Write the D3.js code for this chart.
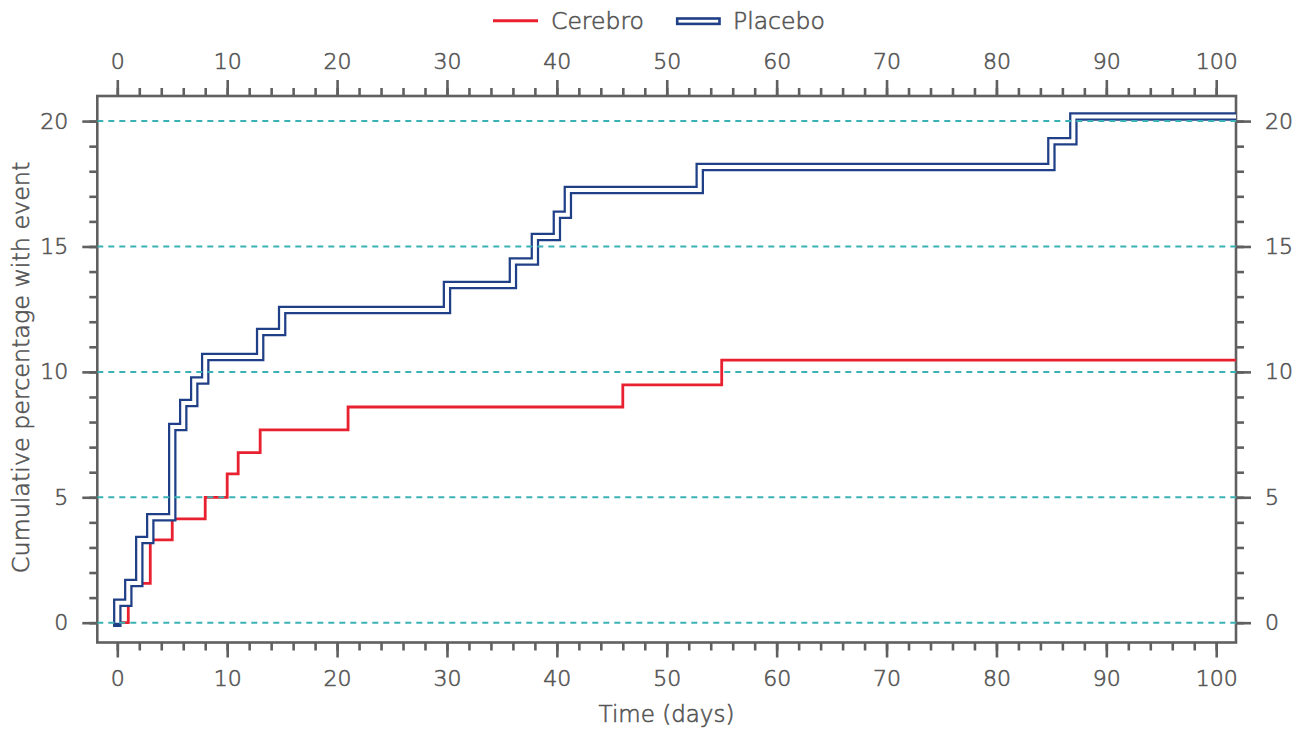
<!DOCTYPE html>
<html>
<head>
<meta charset="utf-8">
<script src="https://cdn.jsdelivr.net/npm/d3@7"></script>
<style>
    body { margin: 0; background: #fff; }
    #chart-area { width: 1299px; height: 734px; }
    text {
        font-family: "DejaVu Sans", "Noto Sans", sans-serif;
        font-weight: 200;
        fill: #555;
        stroke: #555;
        stroke-width: 0.6px;
    }
</style>
</head>
<body>
<div id="chart-area"></div>
<script>

// Cumulative event curves
const cerebroDays = [0, 1, 3, 5, 8, 10, 11, 13, 21, 46, 55];
const cerebroPct = [0, 1.57, 3.3, 4.14, 5.0, 5.93, 6.78, 7.69, 8.6, 9.48, 10.47];

const placeboDays = [0, 0, 1, 2, 3, 5, 6, 7, 8, 13, 15, 30, 36, 38, 40, 41, 53, 85, 87];
const placeboPct = [0, 0.79, 1.58, 3.3, 4.2, 7.8, 8.76, 9.66, 10.59, 11.59, 12.47, 13.46, 14.4, 15.38, 16.27, 17.25, 18.17, 19.2, 20.18];

// Axis ticks
const xMajorTicks = d3.range(0, 101, 10);
const xMinorTicks = d3.range(0, 101, 2);
const yMajorTicks = [0, 5, 10, 15, 20];
const yMinorTicks = d3.range(0, 21, 1);

const seriesNames = ["Cerebro", "Placebo"];

class StepVis {

    constructor(parentElement) {
        this.parentElement = parentElement;
        this.initVis();
    }

    initVis() {
        let vis = this;

        vis.margin = {top: 96, right: 63, bottom: 91.5, left: 97.3};
        vis.width = 1299 - vis.margin.left - vis.margin.right;
        vis.height = 734 - vis.margin.top - vis.margin.bottom;

        vis.root = d3.select(`#${vis.parentElement}`).append("svg")
            .attr("width", 1299)
            .attr("height", 734);

        vis.svg = vis.root.append("g")
            .attr("transform", `translate(${vis.margin.left},${vis.margin.top})`);

        // Scales
        vis.x = d3.scaleLinear().domain([-1.82, 101.8]).range([0, vis.width]);
        vis.y = d3.scaleLinear().domain([-0.79, 21.0]).range([vis.height, 0]);

        vis.svg.append("clipPath").attr("id", "plot-clip")
            .append("rect")
            .attr("width", vis.width)
            .attr("height", vis.height);

        vis.drawAxes();
        vis.drawLines();
        vis.drawLegend();
    }

    drawAxes() {
        let vis = this;
        const axisColor = "#606060";

        const addAxis = (axis, transform) => {
            let g = vis.svg.append("g").attr("transform", transform).call(axis);
            g.select(".domain").remove();
            g.selectAll(".tick line").attr("stroke", axisColor).attr("stroke-width", 2.6);
            g.selectAll(".tick text")
                .attr("fill", null)
                .style("font-size", "22px");
            g.attr("font-family", null);
            return g;
        };

        // minor ticks first
        addAxis(d3.axisBottom(vis.x).tickValues(xMinorTicks).tickSize(8).tickFormat(""), `translate(0,${vis.height})`);
        addAxis(d3.axisTop(vis.x).tickValues(xMinorTicks).tickSize(8).tickFormat(""), "translate(0,0)");
        addAxis(d3.axisLeft(vis.y).tickValues(yMinorTicks).tickSize(8).tickFormat(""), "translate(0,0)");
        addAxis(d3.axisRight(vis.y).tickValues(yMinorTicks).tickSize(8).tickFormat(""), `translate(${vis.width},0)`);

        // major ticks with labels
        addAxis(d3.axisBottom(vis.x).tickValues(xMajorTicks).tickSize(15).tickPadding(13), `translate(0,${vis.height})`);
        addAxis(d3.axisTop(vis.x).tickValues(xMajorTicks).tickSize(16).tickPadding(11), "translate(0,0)");
        addAxis(d3.axisLeft(vis.y).tickValues(yMajorTicks).tickSize(15).tickPadding(14), "translate(0,0)");
        addAxis(d3.axisRight(vis.y).tickValues(yMajorTicks).tickSize(15).tickPadding(14), `translate(${vis.width},0)`);

        // frame
        vis.svg.append("rect")
            .attr("width", vis.width)
            .attr("height", vis.height)
            .attr("fill", "none")
            .attr("stroke", axisColor)
            .attr("stroke-width", 2.6);

        // axis titles
        vis.root.append("text")
            .attr("x", 666.5)
            .attr("y", 722)
            .style("text-anchor", "middle")
            .style("font-size", "23px")
            .text("Time (days)");

        vis.root.append("text")
            .attr("transform", "rotate(-90)")
            .attr("x", -367.5)
            .attr("y", 29)
            .style("text-anchor", "middle")
            .style("font-size", "23.8px")
            .text("Cumulative percentage with event");
    }

    drawLines() {
        let vis = this;

        const xEnd = vis.x.domain()[1] + 1;
        const toPoints = (days, pct) => {
            let pts = days.map((d, i) => [d, pct[i]]);
            pts.push([xEnd, pct[pct.length - 1]]);
            return pts;
        };

        vis.line = d3.line()
            .x(d => vis.x(d[0]))
            .y(d => vis.y(d[1]))
            .curve(d3.curveStepAfter);

        let lines = vis.svg.append("g").attr("clip-path", "url(#plot-clip)");

        lines.append("path")
            .datum(toPoints(cerebroDays, cerebroPct))
            .attr("d", vis.line)
            .attr("fill", "none")
            .attr("stroke", "#e8202f")
            .attr("stroke-width", 2.8);

        let placebo = toPoints(placeboDays, placeboPct);
        lines.append("path")
            .datum(placebo)
            .attr("d", vis.line)
            .attr("fill", "none")
            .attr("stroke", "#1f3f87")
            .attr("stroke-width", 8.5)
            .attr("stroke-linecap", "square");
        lines.append("path")
            .datum(placebo)
            .attr("d", vis.line)
            .attr("fill", "none")
            .attr("stroke", "#fff")
            .attr("stroke-width", 4);

        // dashed reference lines
        lines.selectAll(".grid")
            .data(yMajorTicks)
            .enter().append("line")
            .attr("class", "grid")
            .attr("x1", 0)
            .attr("x2", vis.width)
            .attr("y1", d => vis.y(d))
            .attr("y2", d => vis.y(d))
            .attr("stroke", "#3ab2b5")
            .attr("stroke-width", 2)
            .attr("stroke-dasharray", "6,5");
    }

    drawLegend() {
        let vis = this;
        let lg = vis.root.append("g");

        lg.append("line")
            .attr("x1", 493).attr("x2", 538)
            .attr("y1", 20.7).attr("y2", 20.7)
            .attr("stroke", "#e8202f")
            .attr("stroke-width", 3);
        lg.append("text")
            .attr("x", 551).attr("y", 29)
            .style("font-size", "23.5px")
            .text(seriesNames[0]);

        lg.append("rect")
            .attr("x", 677.2).attr("y", 18.5)
            .attr("width", 42.3).attr("height", 5.4)
            .attr("fill", "#fff")
            .attr("stroke", "#1f3f87")
            .attr("stroke-width", 2.6);
        lg.append("text")
            .attr("x", 733).attr("y", 29)
            .style("font-size", "23.5px")
            .text(seriesNames[1]);
    }
}

new StepVis("chart-area");
</script>
</body>
</html>
